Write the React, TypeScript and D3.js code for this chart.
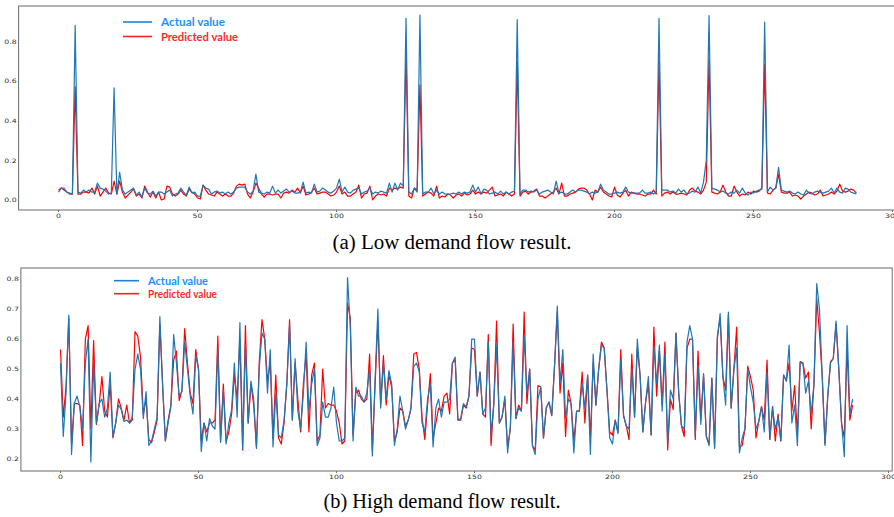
import React from 'react';
import * as d3 from 'd3';

// Low demand flow (panel a)
const lowActual = [
  0.04, 0.06, 0.06, 0.04, 0.035, 0.03, 0.88, 0.04, 0.035, 0.05,
  0.04, 0.05, 0.04, 0.04, 0.085, 0.06, 0.055, 0.045, 0.03, 0.035,
  0.565, 0.03, 0.14, 0.05, 0.03, 0.04, 0.05, 0.06, 0.025, 0.04,
  0.015, 0.06, 0.035, 0.03, 0.045, 0.02, 0.04, 0.04, 0.03, 0.04,
  0.05, 0.02, 0.03, 0.035, 0.06, 0.04, 0.025, 0.065, 0.035, 0.04,
  0.02, 0.02, 0.075, 0.06, 0.055, 0.03, 0.04, 0.045, 0.035, 0.04,
  0.03, 0.04, 0.03, 0.04, 0.06, 0.065, 0.065, 0.065, 0.04, 0.03,
  0.045, 0.13, 0.04, 0.035, 0.03, 0.04, 0.035, 0.07, 0.035, 0.05,
  0.035, 0.045, 0.055, 0.04, 0.045, 0.035, 0.035, 0.04, 0.09, 0.035,
  0.04, 0.035, 0.08, 0.04, 0.045, 0.06, 0.05, 0.04, 0.035, 0.045,
  0.06, 0.105, 0.04, 0.065, 0.04, 0.035, 0.05, 0.055, 0.06, 0.03,
  0.04, 0.045, 0.06, 0.03, 0.04, 0.035, 0.045, 0.04, 0.035, 0.085,
  0.04, 0.085, 0.05, 0.085, 0.07, 0.916, 0.04, 0.03, 0.06, 0.04,
  0.932, 0.03, 0.04, 0.04, 0.06, 0.03, 0.05, 0.03, 0.04, 0.03,
  0.03, 0.03, 0.035, 0.03, 0.04, 0.03, 0.04, 0.035, 0.04, 0.075,
  0.04, 0.065, 0.03, 0.055, 0.05, 0.03, 0.035, 0.04, 0.03, 0.045,
  0.03, 0.04, 0.03, 0.04, 0.045, 0.91, 0.03, 0.05, 0.05, 0.04,
  0.045, 0.04, 0.05, 0.03, 0.04, 0.045, 0.05, 0.04, 0.03, 0.095,
  0.035, 0.04, 0.03, 0.03, 0.04, 0.05, 0.04, 0.05, 0.05, 0.045,
  0.04, 0.03, 0.04, 0.035, 0.04, 0.08, 0.05, 0.04, 0.03, 0.03,
  0.035, 0.04, 0.035, 0.04, 0.065, 0.04, 0.035, 0.035, 0.035, 0.035,
  0.05, 0.035, 0.035, 0.04, 0.03, 0.04, 0.916, 0.05, 0.05, 0.05,
  0.04, 0.045, 0.035, 0.055, 0.04, 0.05, 0.03, 0.035, 0.045, 0.04,
  0.065, 0.035, 0.09, 0.2, 0.93, 0.06, 0.055, 0.05, 0.04, 0.045,
  0.035, 0.03, 0.04, 0.035, 0.05, 0.035, 0.06, 0.035, 0.025, 0.04,
  0.035, 0.045, 0.05, 0.055, 0.897, 0.04, 0.065, 0.05, 0.06, 0.165,
  0.05, 0.045, 0.04, 0.045, 0.035, 0.03, 0.04, 0.03, 0.025, 0.05,
  0.035, 0.03, 0.04, 0.045, 0.04, 0.035, 0.04, 0.045, 0.06, 0.035,
  0.06, 0.04, 0.035, 0.06, 0.055, 0.04, 0.035, 0.03,
];

const lowPredicted = [
  0.05, 0.06, 0.05, 0.04, 0.03, 0.03, 0.57, 0.03, 0.03, 0.04,
  0.04, 0.035, 0.06, 0.03, 0.07, 0.02, 0.04, 0.06, 0.035, 0.03,
  0.095, 0.03, 0.095, 0.04, 0.01, 0.025, 0.04, 0.055, 0.02, 0.03,
  0.01, 0.07, 0.04, 0.015, 0.04, 0.01, 0.04, 0.0, 0.005, 0.07,
  0.065, 0.03, 0.02, 0.03, 0.05, 0.03, 0.02, 0.055, 0.04, 0.03,
  0.01, 0.005, 0.075, 0.05, 0.03, 0.025, 0.02, 0.04, 0.03, 0.02,
  0.03, 0.02, 0.02, 0.035, 0.07, 0.08, 0.075, 0.08, 0.03, 0.01,
  0.04, 0.085, 0.06, 0.03, 0.015, 0.03, 0.03, 0.025, 0.03, 0.03,
  0.01, 0.035, 0.04, 0.035, 0.05, 0.04, 0.06, 0.035, 0.07, 0.025,
  0.03, 0.04, 0.06, 0.03, 0.035, 0.04, 0.04, 0.03, 0.02, 0.025,
  0.04, 0.07, 0.03, 0.04, 0.02, 0.02, 0.03, 0.04, 0.075, 0.01,
  0.03, 0.035, 0.07, 0.0, 0.02, 0.03, 0.025, 0.03, 0.02, 0.06,
  0.05, 0.06, 0.055, 0.065, 0.06, 0.747, 0.02, 0.01, 0.06, 0.05,
  0.58, 0.02, 0.03, 0.04, 0.035, 0.02, 0.07, 0.01, 0.02, 0.015,
  0.03, 0.025, 0.01, 0.025, 0.03, 0.02, 0.035, 0.025, 0.03, 0.05,
  0.03, 0.04, 0.03, 0.04, 0.035, 0.05, 0.065, 0.02, 0.025, 0.03,
  0.02, 0.04, 0.03, 0.02, 0.03, 0.697, 0.02, 0.04, 0.045, 0.03,
  0.04, 0.045, 0.055, 0.02, 0.02, 0.01, 0.02, 0.03, 0.04, 0.06,
  0.03, 0.085, 0.02, 0.02, 0.03, 0.035, 0.04, 0.055, 0.06, 0.06,
  0.05, 0.03, 0.0, 0.05, 0.04, 0.065, 0.04, 0.03, 0.02, 0.015,
  0.065, 0.025, 0.015, 0.035, 0.05, 0.02, 0.04, 0.035, 0.03, 0.03,
  0.025, 0.02, 0.03, 0.03, 0.05, 0.03, 0.70, 0.02, 0.035, 0.04,
  0.03, 0.04, 0.03, 0.03, 0.035, 0.03, 0.025, 0.05, 0.06, 0.045,
  0.04, 0.03, 0.05, 0.09, 0.71, 0.04, 0.035, 0.03, 0.04, 0.075,
  0.04, 0.02, 0.02, 0.07, 0.04, 0.02, 0.03, 0.025, 0.04, 0.03,
  0.045, 0.04, 0.045, 0.06, 0.684, 0.035, 0.03, 0.05, 0.06, 0.13,
  0.04, 0.035, 0.035, 0.04, 0.02, 0.025, 0.02, 0.005, 0.02, 0.03,
  0.04, 0.035, 0.025, 0.03, 0.05, 0.02, 0.025, 0.03, 0.04, 0.03,
  0.045, 0.08, 0.045, 0.04, 0.045, 0.055, 0.05, 0.035,
];

// High demand flow (panel b)
const highActual = [
  0.52, 0.275, 0.42, 0.68, 0.215, 0.385, 0.41, 0.375, 0.30, 0.52,
  0.60, 0.19, 0.52, 0.32, 0.385, 0.40, 0.34, 0.37, 0.49, 0.275,
  0.32, 0.38, 0.365, 0.325, 0.33, 0.32, 0.34, 0.50, 0.55, 0.50,
  0.335, 0.425, 0.245, 0.26, 0.30, 0.34, 0.675, 0.44, 0.26, 0.32,
  0.375, 0.615, 0.52, 0.41, 0.425, 0.59, 0.50, 0.41, 0.35, 0.545,
  0.50, 0.225, 0.32, 0.26, 0.335, 0.31, 0.30, 0.57, 0.255, 0.43,
  0.25, 0.32, 0.365, 0.52, 0.34, 0.655, 0.235, 0.58, 0.32, 0.46,
  0.40, 0.235, 0.50, 0.62, 0.60, 0.42, 0.565, 0.24, 0.42, 0.28,
  0.27, 0.33, 0.45, 0.65, 0.33, 0.535, 0.36, 0.30, 0.42, 0.59,
  0.36, 0.45, 0.50, 0.245, 0.27, 0.39, 0.34, 0.34, 0.37, 0.44,
  0.32, 0.26, 0.26, 0.27, 0.805, 0.64, 0.26, 0.44, 0.41, 0.41,
  0.39, 0.42, 0.50, 0.21, 0.47, 0.70, 0.37, 0.52, 0.40, 0.495,
  0.45, 0.245, 0.30, 0.41, 0.36, 0.30, 0.33, 0.37, 0.51, 0.52,
  0.49, 0.32, 0.29, 0.40, 0.45, 0.24, 0.37, 0.40, 0.34, 0.39,
  0.39, 0.40, 0.52, 0.54, 0.33, 0.335, 0.385, 0.375, 0.41, 0.60,
  0.60, 0.41, 0.49, 0.35, 0.37, 0.59, 0.28, 0.385, 0.58, 0.32,
  0.34, 0.41, 0.22, 0.31, 0.59, 0.335, 0.37, 0.36, 0.61, 0.42,
  0.50, 0.245, 0.215, 0.40, 0.44, 0.27, 0.37, 0.39, 0.345, 0.51,
  0.71, 0.45, 0.565, 0.335, 0.40, 0.385, 0.22, 0.36, 0.36, 0.45,
  0.37, 0.48, 0.215, 0.55, 0.38, 0.50, 0.58, 0.57, 0.43, 0.27,
  0.25, 0.33, 0.285, 0.53, 0.345, 0.31, 0.30, 0.50, 0.34, 0.60,
  0.48, 0.29, 0.39, 0.475, 0.28, 0.575, 0.45, 0.58, 0.36, 0.55,
  0.25, 0.43, 0.40, 0.62, 0.42, 0.31, 0.30, 0.59, 0.645, 0.60,
  0.28, 0.51, 0.315, 0.485, 0.275, 0.245, 0.47, 0.235, 0.60, 0.685,
  0.475, 0.38, 0.69, 0.37, 0.50, 0.57, 0.22, 0.27, 0.30, 0.50,
  0.44, 0.39, 0.30, 0.325, 0.375, 0.29, 0.49, 0.265, 0.37, 0.30,
  0.34, 0.26, 0.48, 0.46, 0.58, 0.32, 0.38, 0.245, 0.52, 0.52,
  0.42, 0.46, 0.35, 0.45, 0.785, 0.70, 0.475, 0.245, 0.41, 0.52,
  0.535, 0.66, 0.50, 0.32, 0.208, 0.645, 0.35, 0.40,
];

const highPredicted = [
  0.565, 0.34, 0.44, 0.67, 0.25, 0.385, 0.385, 0.38, 0.245, 0.60,
  0.645, 0.30, 0.595, 0.315, 0.38, 0.475, 0.36, 0.34, 0.45, 0.27,
  0.32, 0.40, 0.37, 0.33, 0.38, 0.32, 0.33, 0.625, 0.61, 0.54,
  0.35, 0.40, 0.265, 0.255, 0.29, 0.33, 0.65, 0.45, 0.26, 0.33,
  0.38, 0.53, 0.56, 0.395, 0.43, 0.635, 0.52, 0.42, 0.385, 0.565,
  0.50, 0.26, 0.32, 0.29, 0.32, 0.32, 0.33, 0.61, 0.26, 0.45,
  0.26, 0.29, 0.35, 0.48, 0.40, 0.60, 0.23, 0.645, 0.32, 0.45,
  0.38, 0.24, 0.52, 0.665, 0.60, 0.46, 0.52, 0.27, 0.48, 0.27,
  0.25, 0.32, 0.45, 0.665, 0.33, 0.52, 0.40, 0.29, 0.45, 0.55,
  0.29, 0.48, 0.52, 0.26, 0.28, 0.50, 0.37, 0.385, 0.38, 0.38,
  0.36, 0.32, 0.25, 0.26, 0.72, 0.67, 0.28, 0.42, 0.43, 0.40,
  0.39, 0.40, 0.55, 0.23, 0.45, 0.66, 0.38, 0.545, 0.38, 0.48,
  0.44, 0.26, 0.29, 0.37, 0.36, 0.31, 0.33, 0.37, 0.55, 0.555,
  0.50, 0.34, 0.265, 0.38, 0.485, 0.27, 0.32, 0.37, 0.36, 0.41,
  0.42, 0.35, 0.52, 0.53, 0.33, 0.33, 0.38, 0.37, 0.41, 0.57,
  0.565, 0.41, 0.49, 0.35, 0.34, 0.615, 0.245, 0.385, 0.66, 0.32,
  0.34, 0.40, 0.24, 0.30, 0.65, 0.335, 0.38, 0.36, 0.69, 0.385,
  0.50, 0.245, 0.23, 0.445, 0.44, 0.27, 0.37, 0.39, 0.345, 0.51,
  0.69, 0.42, 0.52, 0.275, 0.43, 0.385, 0.26, 0.36, 0.36, 0.49,
  0.32, 0.48, 0.27, 0.52, 0.38, 0.50, 0.59, 0.57, 0.43, 0.29,
  0.28, 0.33, 0.29, 0.565, 0.345, 0.31, 0.265, 0.55, 0.34, 0.57,
  0.48, 0.29, 0.39, 0.45, 0.28, 0.64, 0.41, 0.56, 0.38, 0.59,
  0.23, 0.40, 0.365, 0.62, 0.42, 0.31, 0.275, 0.57, 0.60, 0.60,
  0.265, 0.56, 0.33, 0.48, 0.275, 0.25, 0.47, 0.24, 0.61, 0.67,
  0.475, 0.43, 0.68, 0.37, 0.50, 0.64, 0.24, 0.245, 0.30, 0.51,
  0.475, 0.43, 0.27, 0.325, 0.375, 0.33, 0.53, 0.265, 0.375, 0.26,
  0.35, 0.26, 0.48, 0.46, 0.52, 0.36, 0.445, 0.28, 0.525, 0.52,
  0.47, 0.49, 0.30, 0.45, 0.735, 0.62, 0.475, 0.25, 0.41, 0.525,
  0.535, 0.65, 0.50, 0.32, 0.27, 0.57, 0.33, 0.38,
];

const xTicks = [0, 50, 100, 150, 200, 250, 300];
const lowYTicks = [0.0, 0.2, 0.4, 0.6, 0.8];
const highYTicks = [0.2, 0.3, 0.4, 0.5, 0.6, 0.7, 0.8];
const legendLabels = ['Actual value', 'Predicted value'];
const captions = ['(a) Low demand flow result.', '(b) High demand flow result.'];

const BLUE = '#1f77b4';
const RED = '#ff0000';
const tickFont = 'DejaVu Sans, sans-serif';

function Panel({ actual, predicted, yTicks, xRange, yDomain, yRange, legend }) {
  const x = d3.scaleLinear().domain([-14.35, 301.35]).range(xRange);
  const y = d3.scaleLinear().domain(yDomain).range(yRange);
  const line = d3.line<number>().x((_, i) => x(i)).y(d => y(d));
  const [x0, x1] = xRange;
  const [yb, yt] = yRange;
  const fmt = d3.format('.1f');

  return (
    <g>
      <path d={line(predicted) || ''} fill="none" stroke={RED} strokeWidth={1.2} strokeLinejoin="round" />
      <path d={line(actual) || ''} fill="none" stroke={BLUE} strokeWidth={1.2} strokeLinejoin="round" />
      <rect x={x0} y={yt} width={x1 - x0} height={yb - yt} fill="none" stroke="#6b6b6b" strokeWidth={1} />
      {xTicks.map(t => (
        <g key={'x' + t}>
          <line x1={x(t)} x2={x(t)} y1={yb} y2={yb + 2} stroke="#6b6b6b" />
          <text
            transform={`translate(${x(t)},${yb + 7.5}) scale(1.3,1)`}
            textAnchor="middle"
            fontFamily={tickFont}
            fontSize={6}
            fill="#333"
          >
            {t}
          </text>
        </g>
      ))}
      {yTicks.map(t => (
        <text
          key={'y' + t}
          transform={`translate(${x0 - 2},${y(t) + 2.2}) scale(1.3,1)`}
          textAnchor="end"
          fontFamily={tickFont}
          fontSize={6}
          fill="#333"
        >
          {fmt(t)}
        </text>
      ))}
      {legend.rows.map((r, i) => (
        <g key={'lg' + i}>
          <line x1={legend.x} x2={legend.x + legend.len} y1={r.ly} y2={r.ly} stroke={r.lineColor} strokeWidth={1.6} />
          <text
            x={legend.x + legend.len + 9}
            y={r.ty}
            fontFamily="Lato, sans-serif"
            fontWeight="bold"
            fontSize={legend.size}
            fill={r.textColor}
            textLength={r.w}
            lengthAdjust="spacingAndGlyphs"
          >
            {legendLabels[i]}
          </text>
        </g>
      ))}
    </g>
  );
}

export default function App() {
  return (
    <svg
      width={894}
      height={517}
      style={{ position: 'absolute', left: 0, top: 0, background: '#fff' }}
    >
      <rect width={894} height={517} fill="#fff" />
      <Panel
        actual={lowActual}
        predicted={lowPredicted}
        yTicks={lowYTicks}
        xRange={[18.6, 896.3]}
        yDomain={[-0.0504, 0.978]}
        yRange={[210, 6]}
        legend={{
          x: 123,
          len: 29,
          size: 12,
          rows: [
            { ly: 22, ty: 26, lineColor: '#1e7fd6', textColor: '#1e90ff', w: 64 },
            { ly: 36.5, ty: 41.3, lineColor: '#ff2020', textColor: '#ff2a2a', w: 77 },
          ],
        }}
      />
      <Panel
        actual={highActual}
        predicted={highPredicted}
        yTicks={highYTicks}
        xRange={[20.9, 892.2]}
        yDomain={[0.16, 0.837]}
        yRange={[471, 268]}
        legend={{
          x: 114,
          len: 25,
          size: 11,
          rows: [
            { ly: 280.7, ty: 284.5, lineColor: '#1e7fd6', textColor: '#1e90ff', w: 60 },
            { ly: 293.7, ty: 297.5, lineColor: '#ff2020', textColor: '#ff2a2a', w: 69 },
          ],
        }}
      />
      <text
        x={452}
        y={249}
        textAnchor="middle"
        fontFamily="Liberation Serif, Times New Roman, serif"
        fontSize={20}
        fill="#000"
        textLength={239}
        lengthAdjust="spacingAndGlyphs"
      >
        {captions[0]}
      </text>
      <text
        x={442}
        y={507.5}
        textAnchor="middle"
        fontFamily="Liberation Serif, Times New Roman, serif"
        fontSize={20}
        fill="#000"
        textLength={237}
        lengthAdjust="spacingAndGlyphs"
      >
        {captions[1]}
      </text>
    </svg>
  );
}
